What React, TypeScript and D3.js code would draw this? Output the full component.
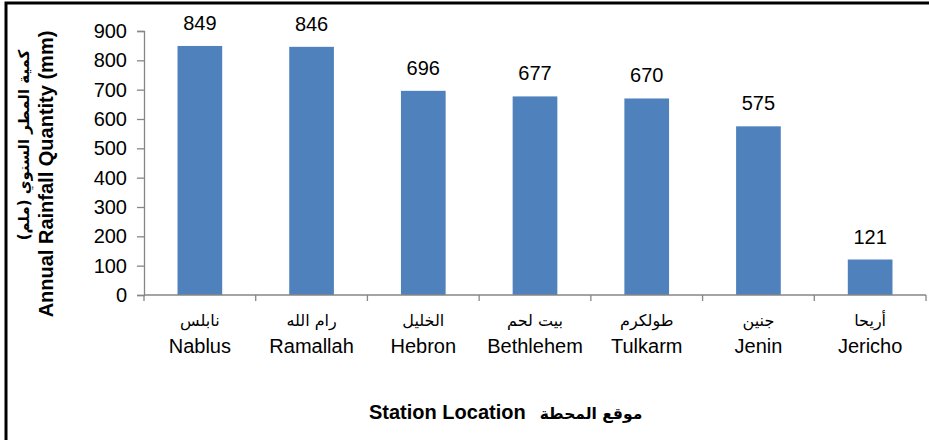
import React, { useRef, useEffect } from 'react';
import * as d3 from 'd3';

const stationsEn = ['Nablus', 'Ramallah', 'Hebron', 'Bethlehem', 'Tulkarm', 'Jenin', 'Jericho'];
const stationsAr = ['نابلس', 'رام الله', 'الخليل', 'بيت لحم', 'طولكرم', 'جنين', 'أريحا'];
const rainfall = [849, 846, 696, 677, 670, 575, 121];
const yTicks = [0, 100, 200, 300, 400, 500, 600, 700, 800, 900];

const W = 929;
const H = 440;
const FONT = '"Liberation Sans", Arial, sans-serif';
const AR_FONT = '"DejaVu Sans", sans-serif';

export default function App() {
  const svgRef = useRef<SVGSVGElement | null>(null);

  useEffect(() => {
    const svg = d3.select(svgRef.current);
    svg.selectAll('*').remove();

    const left = 144, right = 926, top = 31, bottom = 295;

    // chart border (cropped on the right and bottom)
    svg.append('rect')
      .attr('x', 6).attr('y', 3)
      .attr('width', W).attr('height', H)
      .attr('fill', 'white')
      .attr('stroke', '#000')
      .attr('stroke-width', 3);

    const x = d3.scaleBand<string>()
      .domain(stationsEn)
      .range([left, right])
      .paddingInner(0.6)
      .paddingOuter(0.3);

    const y = d3.scaleLinear().domain([0, 900]).range([bottom, top]);

    // bars
    svg.append('g')
      .selectAll('rect')
      .data(rainfall)
      .enter().append('rect')
      .attr('x', (d, i) => x(stationsEn[i])!)
      .attr('y', d => y(d))
      .attr('width', x.bandwidth())
      .attr('height', d => bottom - y(d))
      .attr('fill', '#4F81BD');

    // value labels
    svg.append('g')
      .selectAll('text')
      .data(rainfall)
      .enter().append('text')
      .attr('x', (d, i) => x(stationsEn[i])! + x.bandwidth() / 2)
      .attr('y', d => y(d) - 16)
      .attr('text-anchor', 'middle')
      .style('font-family', FONT)
      .style('font-size', '20px')
      .style('fill', '#000')
      .text(d => d);

    const axisColor = '#868686';

    // y axis
    const yAxis = svg.append('g')
      .attr('transform', `translate(${left},0)`)
      .call(d3.axisLeft(y).tickValues(yTicks).tickSize(7).tickPadding(10));
    yAxis.select('.domain').attr('stroke', axisColor).attr('stroke-width', 1.3);
    yAxis.selectAll('line').attr('stroke', axisColor).attr('stroke-width', 1.3);
    yAxis.selectAll('text')
      .style('font-family', FONT)
      .style('font-size', '20px')
      .style('fill', '#000');

    // x axis with ticks at category boundaries
    const step = x.step();
    const boundaries = d3.range(stationsEn.length + 1).map(i => left + i * step);
    svg.append('line')
      .attr('x1', left).attr('x2', right)
      .attr('y1', bottom).attr('y2', bottom)
      .attr('stroke', axisColor).attr('stroke-width', 1.3);
    svg.append('g')
      .selectAll('line')
      .data(boundaries)
      .enter().append('line')
      .attr('x1', d => d).attr('x2', d => d)
      .attr('y1', bottom).attr('y2', bottom + 6)
      .attr('stroke', axisColor).attr('stroke-width', 1.3);

    // category labels
    const cat = svg.append('g');
    cat.selectAll('text.ar')
      .data(stationsAr)
      .enter().append('text')
      .attr('class', 'ar')
      .attr('x', (d, i) => x(stationsEn[i])! + x.bandwidth() / 2)
      .attr('y', 326)
      .attr('text-anchor', 'middle')
      .style('font-family', AR_FONT)
      .style('font-size', '16px')
      .style('fill', '#000')
      .text(d => d);
    cat.selectAll('text.en')
      .data(stationsEn)
      .enter().append('text')
      .attr('class', 'en')
      .attr('x', d => x(d)! + x.bandwidth() / 2)
      .attr('y', 353)
      .attr('text-anchor', 'middle')
      .style('font-family', FONT)
      .style('font-size', '20px')
      .style('fill', '#000')
      .text(d => d);

    // y axis title
    svg.append('text')
      .attr('transform', `translate(53,174) rotate(-90)`)
      .attr('text-anchor', 'middle')
      .style('font-family', FONT)
      .style('font-size', '20px')
      .style('font-weight', 'bold')
      .text('Annual Rainfall Quantity (mm)');
    svg.append('text')
      .attr('transform', `translate(29,145) rotate(-90)`)
      .attr('text-anchor', 'middle')
      .style('font-family', AR_FONT)
      .style('font-size', '15px')
      .style('font-weight', 'bold')
      .text('كمية المطر السنوي (ملم)');

    // x axis title
    svg.append('text')
      .attr('x', 369).attr('y', 419)
      .style('font-family', FONT)
      .style('font-size', '20px')
      .style('font-weight', 'bold')
      .text('Station Location');
    svg.append('text')
      .attr('x', 591).attr('y', 419)
      .attr('text-anchor', 'middle')
      .style('font-family', AR_FONT)
      .style('font-size', '15.5px')
      .style('font-weight', 'bold')
      .text('موقع المحطة');
  }, []);

  return (
    <svg
      ref={svgRef}
      width={W}
      height={H}
      style={{ position: 'absolute', left: 0, top: 0, background: '#fff' }}
    />
  );
}
